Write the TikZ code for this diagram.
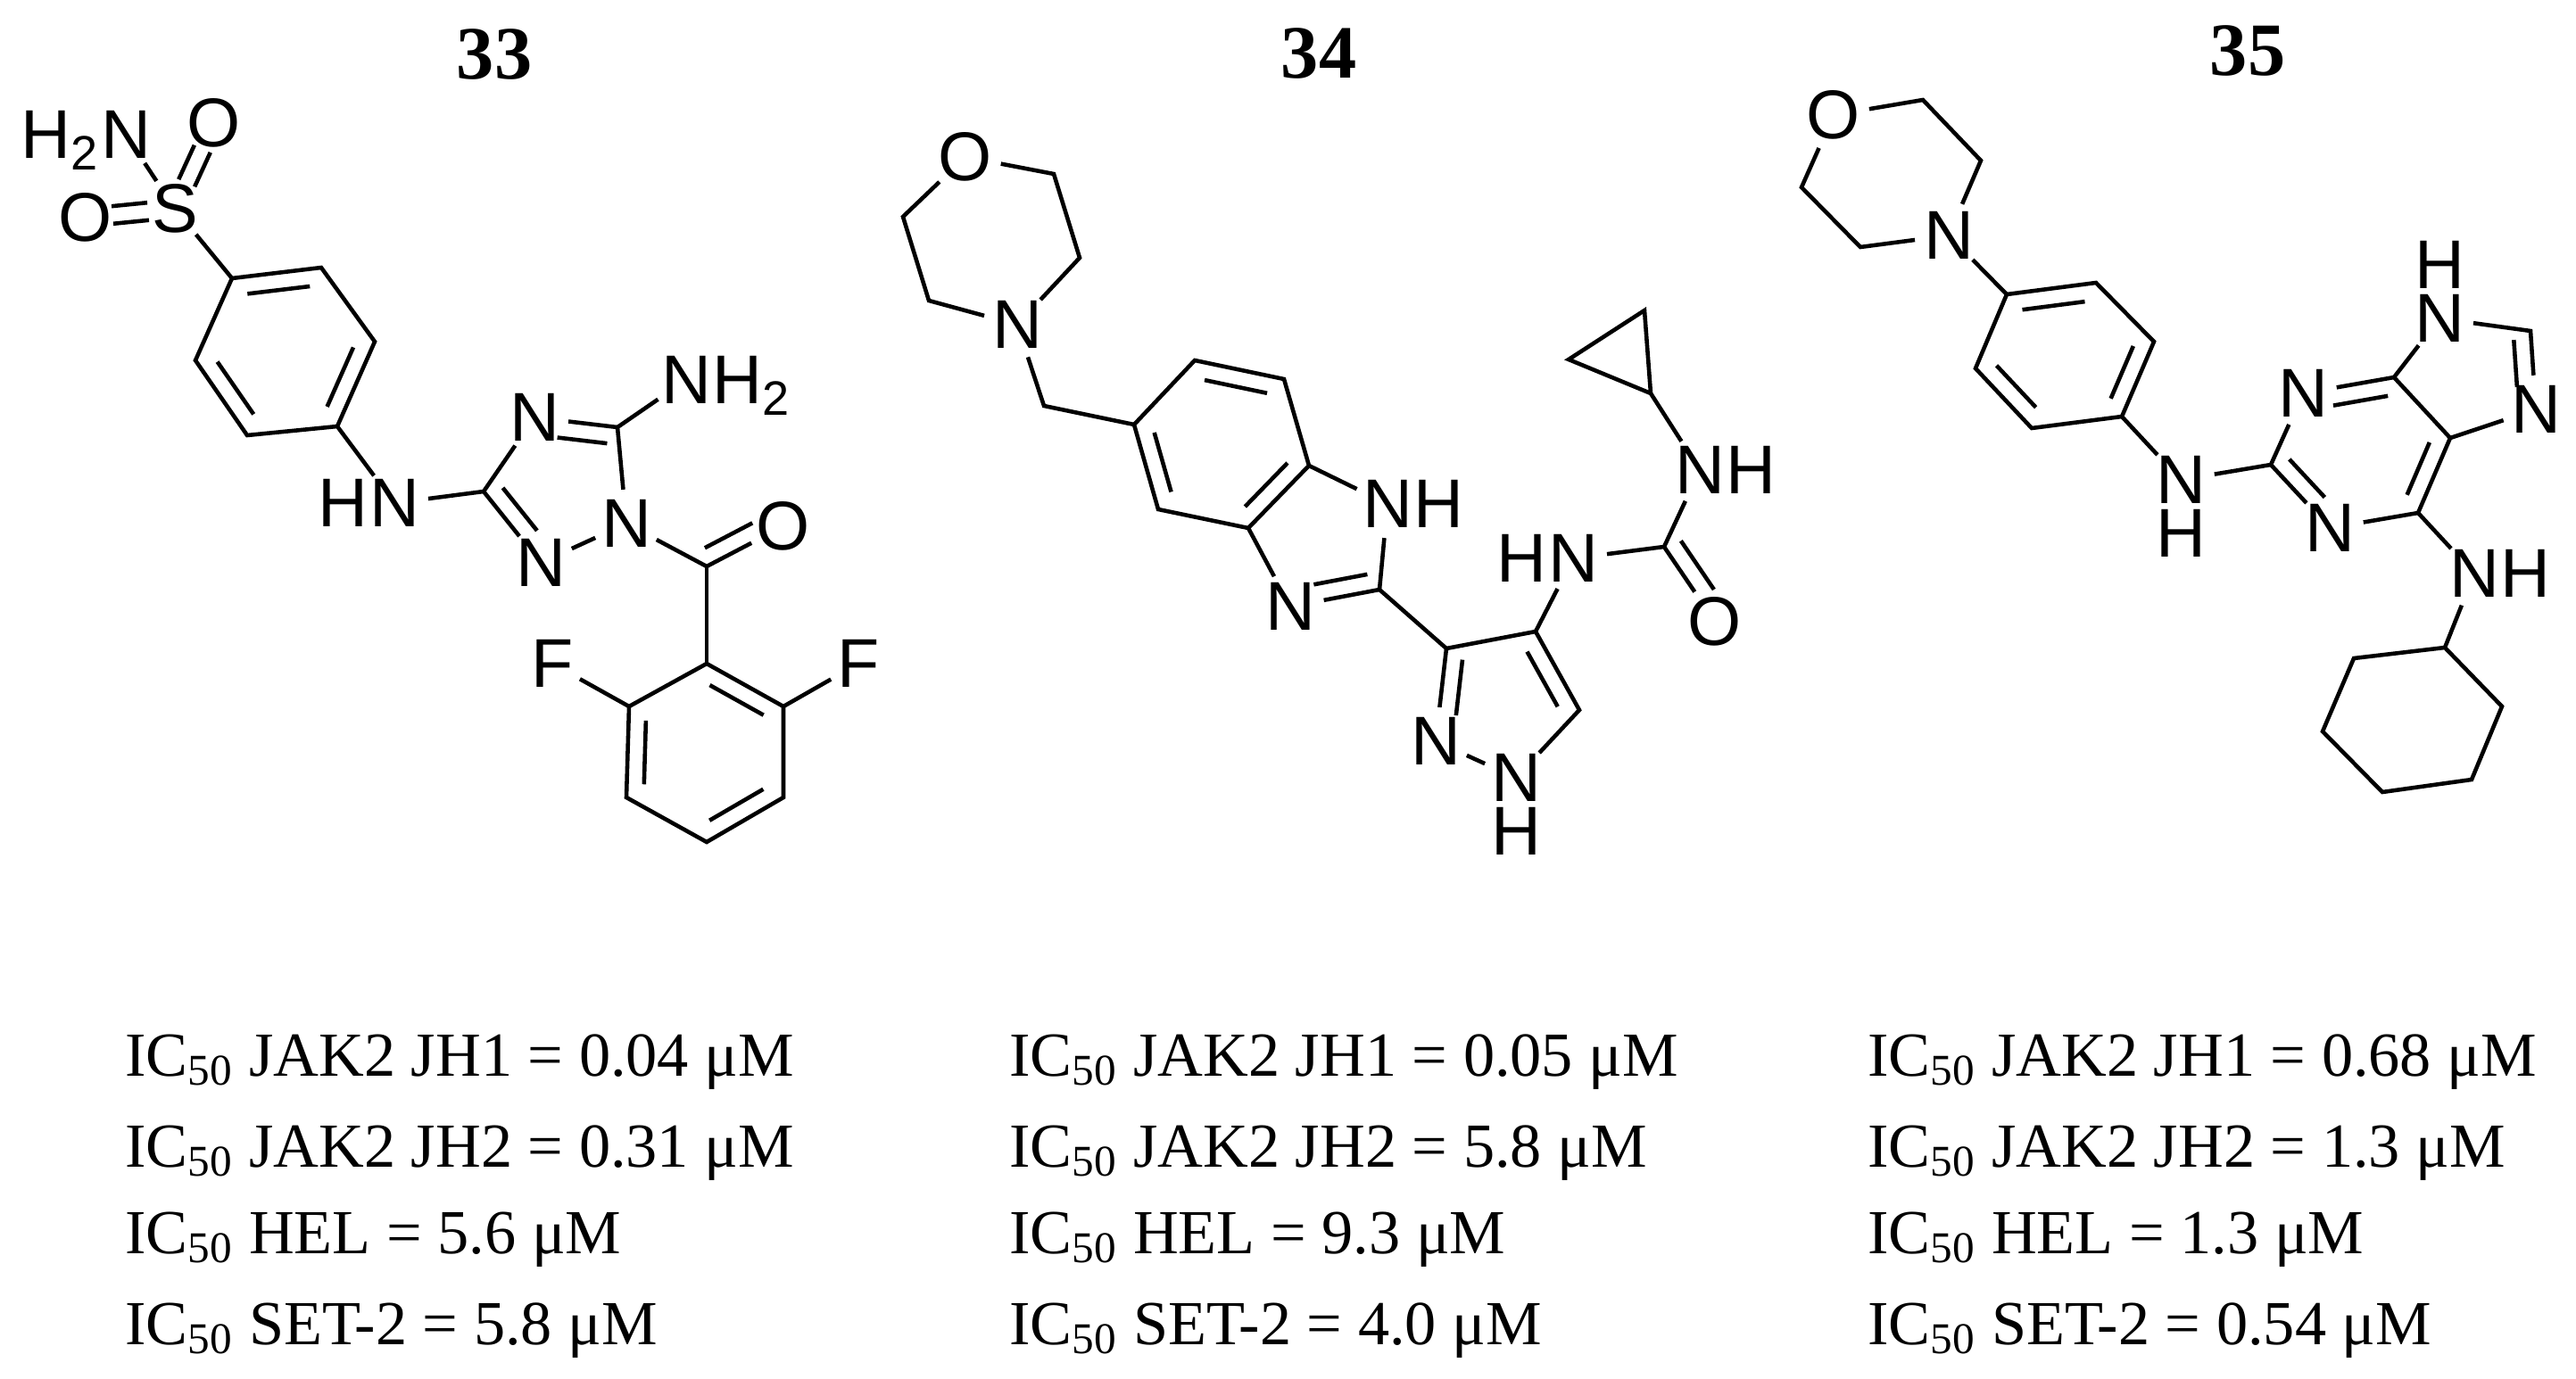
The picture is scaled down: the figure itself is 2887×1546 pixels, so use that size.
\documentclass[tikz,border=0pt]{standalone}
\usepackage{fontspec}
\setmainfont{Liberation Serif}
\setsansfont{Liberation Sans}
\usetikzlibrary{calc}
\newcommand\asf{\sffamily\fontsize{22}{26}\selectfont}
\newcommand\dbl[6][5.5pt]{%
 \coordinate (dbf) at ($(#2)!(#4)!(#3)$);
 \draw ($(#2)!#5!(#3) + (dbf)!#1!(#4) - (dbf)$) -- ($(#3)!#6!(#2) + (dbf)!#1!(#4) - (dbf)$);}
\tikzset{atom/.style={circle,inner sep=-0.5pt,font=\asf},
 hl/.style={inner sep=0pt,font=\asf},
 hr/.style={hl,anchor=base west,xshift=7.8pt},
 hlft/.style={hl,anchor=base east,xshift=-7.8pt},
 hdn/.style={hl,anchor=base,yshift=-17pt},
 hup/.style={hl,anchor=base,yshift=17pt},
 ic/.style={anchor=base west,inner sep=0pt,font=\fontsize{20}{24}\selectfont},
 num/.style={inner sep=0pt,font=\fontsize{24}{28}\selectfont\bfseries}}
\begin{document}
\begin{tikzpicture}[x=0.01cm,y=-0.01cm,line width=1.3pt]
\useasboundingbox (0,0) rectangle (2887,1546);
% ---------- 33 ----------
\node[num] (n33) at (554,61) {33};
\node[atom] (Na) at (141,151) {N};
\node[hlft] (Ha) at (Na.base) {H\textsubscript{2}};
\node[atom] (Ot) at (240,138) {O};
\node[atom] (S) at (196,234) {S};
\node[atom] (Ol) at (96,244) {O};
\coordinate (a1) at (260,312); \coordinate (a2) at (360,300); \coordinate (a3) at (420,383);
\coordinate (a4) at (378,478); \coordinate (a5) at (277,488); \coordinate (a6) at (219,404);
\coordinate (ca) at (319,394);
\draw (Na) -- (S); \draw (S) -- (a1);
\dbl[2.8pt]{S}{Ot}{Ol}{.3}{.3}\dbl[-2.8pt]{S}{Ot}{Ol}{.3}{.3}
\dbl[2.8pt]{S}{Ol}{Ot}{.3}{.3}\dbl[-2.8pt]{S}{Ol}{Ot}{.3}{.3}
\draw (a1)--(a2)--(a3)--(a4)--(a5)--(a6)--cycle;
\dbl{a1}{a2}{ca}{.15}{.15}\dbl{a3}{a4}{ca}{.15}{.15}\dbl{a5}{a6}{ca}{.15}{.15}
\node[atom] (Nb) at (442,564) {N};
\node[hlft] (Hb) at (Nb.base) {H};
\coordinate (t3) at (542,551);
\node[atom] (t4) at (599,468) {N};
\coordinate (t5) at (692,479);
\node[atom] (t1) at (702,587) {N};
\node[atom] (t2) at (606,631) {N};
\coordinate (ct) at (628,543);
\draw (a4) -- (Nb); \draw (Nb) -- (t3);
\draw (t3) -- (t4) -- (t5) -- (t1) -- (t2) -- (t3);
\dbl{t4}{t5}{ct}{.3}{.1}\dbl{t2}{t3}{ct}{.3}{.1}
\node[atom] (Nc) at (769,426) {N};
\node[hr] (Hc) at (Nc.base) {H\textsubscript{2}};
\draw (t5) -- (Nc);
\coordinate (cc) at (792,635);
\node[atom] (Oc) at (878,590) {O};
\draw (t1) -- (cc) -- (Oc);
\coordinate (cside) at (800,560);
\dbl{cc}{Oc}{cside}{.08}{.3}
\coordinate (b1) at (792,744); \coordinate (b2) at (878,792); \coordinate (b3) at (878,894);
\coordinate (b4) at (792,944); \coordinate (b5) at (702,894); \coordinate (b6) at (705,792);
\coordinate (cb) at (791,843);
\draw (cc) -- (b1);
\draw (b1)--(b2)--(b3)--(b4)--(b5)--(b6)--cycle;
\dbl{b1}{b2}{cb}{.15}{.15}\dbl{b3}{b4}{cb}{.15}{.15}\dbl{b5}{b6}{cb}{.15}{.15}
\node[atom] (F1) at (619,744) {F};
\node[atom] (F2) at (962,744) {F};
\draw (b6) -- (F1); \draw (b2) -- (F2);
% ---------- 34 ----------
\node[num] (n34) at (1478,60) {34};
\node[atom] (mO) at (1082,176) {O};
\coordinate (m1) at (1181,195); \coordinate (m2) at (1210,289);
\node[atom] (mN) at (1140,364) {N};
\coordinate (m3) at (1041,337); \coordinate (m4) at (1012,243);
\draw (mO) -- (m1) -- (m2) -- (mN) -- (m3) -- (m4) -- (mO);
\coordinate (ch2) at (1170,455);
\coordinate (z1) at (1271,476); \coordinate (z2) at (1339,404); \coordinate (z3) at (1439,425);
\coordinate (z4) at (1467,522); \coordinate (z5) at (1399,592); \coordinate (z6) at (1298,571);
\coordinate (cz) at (1369,498);
\draw (mN) -- (ch2) -- (z1);
\draw (z1)--(z2)--(z3)--(z4)--(z5)--(z6)--cycle;
\dbl{z2}{z3}{cz}{.15}{.15}\dbl{z1}{z6}{cz}{.15}{.15}\dbl{z4}{z5}{cz}{.15}{.15}
\node[atom] (iN1) at (1555,565) {N};
\node[hr] (iH1) at (iN1.base) {H};
\coordinate (iC2) at (1546,661);
\node[atom] (iN3) at (1446,680) {N};
\coordinate (ci) at (1483,604);
\draw (z4) -- (iN1) -- (iC2) -- (iN3) -- (z5);
\dbl{iC2}{iN3}{ci}{.1}{.3}
\coordinate (p3) at (1621,727); \coordinate (p4) at (1721,708); \coordinate (p5) at (1770,796);
\node[atom] (pN1) at (1699,872) {N};
\node[hdn] (pH1) at (pN1.base) {H};
\node[atom] (pN2) at (1609,831) {N};
\coordinate (cp) at (1684,787);
\draw (iC2) -- (p3);
\draw (p3) -- (p4) -- (p5) -- (pN1) -- (pN2) -- (p3);
\dbl{p3}{pN2}{cp}{.1}{.3}\dbl{p4}{p5}{cp}{.15}{.15}
\node[atom] (uN1) at (1763,626) {N};
\node[hlft] (uH1) at (uN1.base) {H};
\coordinate (uC) at (1865,613);
\node[atom] (uO) at (1922,697) {O};
\node[atom] (uN2) at (1905,527) {N};
\node[hr] (uH2) at (uN2.base) {H};
\draw (p4) -- (uN1); \draw (uN1) -- (uC) -- (uN2);
\draw (uC) -- (uO);
\coordinate (uside) at (1960,620);
\dbl{uC}{uO}{uside}{.05}{.3}
\coordinate (cy1) at (1850,441); \coordinate (cy2) at (1843,348); \coordinate (cy3) at (1758,403);
\draw (uN2) -- (cy1); \draw (cy1) -- (cy2) -- (cy3) -- cycle;
% ---------- 35 ----------
\node[num] (n35) at (2519,57) {35};
\node[atom] (kO) at (2055,129) {O};
\coordinate (k1) at (2155,112); \coordinate (k2) at (2220,180);
\node[atom] (kN) at (2184,264) {N};
\coordinate (k3) at (2085,277); \coordinate (k4) at (2019,210);
\draw (kO) -- (k1) -- (k2) -- (kN) -- (k3) -- (k4) -- (kO);
\coordinate (e1) at (2249,330); \coordinate (e2) at (2349,317); \coordinate (e3) at (2414,383);
\coordinate (e4) at (2378,467); \coordinate (e5) at (2277,480); \coordinate (e6) at (2214,413);
\coordinate (ce) at (2314,398);
\draw (kN) -- (e1);
\draw (e1)--(e2)--(e3)--(e4)--(e5)--(e6)--cycle;
\dbl{e1}{e2}{ce}{.15}{.15}\dbl{e3}{e4}{ce}{.15}{.15}\dbl{e5}{e6}{ce}{.15}{.15}
\node[atom] (qN) at (2444,538) {N};
\node[hdn] (qH) at (qN.base) {H};
\coordinate (r2) at (2545,521);
\node[atom] (rN3) at (2581,441) {N};
\coordinate (r4) at (2683,423); \coordinate (r5) at (2746,491); \coordinate (r6) at (2710,575);
\node[atom] (rN1) at (2611,592) {N};
\coordinate (cr) at (2646,507);
\draw (e4) -- (qN) -- (r2);
\draw (r2) -- (rN3) -- (r4) -- (r5) -- (r6) -- (rN1) -- (r2);
\dbl{r2}{rN1}{cr}{.1}{.3}\dbl{rN3}{r4}{cr}{.3}{.1}\dbl{r5}{r6}{cr}{.15}{.15}
\node[atom] (sN9) at (2734,357) {N};
\node[hup] (sH9) at (sN9.base) {H};
\coordinate (s8) at (2836,371);
\node[atom] (sN7) at (2842,459) {N};
\coordinate (cs) at (2768,420);
\draw (r4) -- (sN9) -- (s8) -- (sN7) -- (r5);
\dbl{s8}{sN7}{cs}{.1}{.3}
\node[atom] (hN) at (2773,643) {N};
\node[hr] (hH) at (hN.base) {H};
\coordinate (h1) at (2740,726); \coordinate (h2) at (2804,792); \coordinate (h3) at (2770,874);
\coordinate (h4) at (2670,888); \coordinate (h5) at (2603,820); \coordinate (h6) at (2638,738);
\draw (r6) -- (hN) -- (h1);
\draw (h1)--(h2)--(h3)--(h4)--(h5)--(h6)--cycle;
% ---------- data ----------
\node[ic] (t1a) at (138,1206) {IC\textsubscript{50} JAK2 JH1 = 0.04 μM};
\node[ic] (t1b) at (138,1308) {IC\textsubscript{50} JAK2 JH2 = 0.31 μM};
\node[ic] (t1c) at (138,1405) {IC\textsubscript{50} HEL = 5.6 μM};
\node[ic] (t1d) at (138,1507) {IC\textsubscript{50} SET-2 = 5.8 μM};
\node[ic] (t2a) at (1129,1206) {IC\textsubscript{50} JAK2 JH1 = 0.05 μM};
\node[ic] (t2b) at (1129,1308) {IC\textsubscript{50} JAK2 JH2 = 5.8 μM};
\node[ic] (t2c) at (1129,1405) {IC\textsubscript{50} HEL = 9.3 μM};
\node[ic] (t2d) at (1129,1507) {IC\textsubscript{50} SET-2 = 4.0 μM};
\node[ic] (t3a) at (2091,1206) {IC\textsubscript{50} JAK2 JH1 = 0.68 μM};
\node[ic] (t3b) at (2091,1308) {IC\textsubscript{50} JAK2 JH2 = 1.3 μM};
\node[ic] (t3c) at (2091,1405) {IC\textsubscript{50} HEL = 1.3 μM};
\node[ic] (t3d) at (2091,1507) {IC\textsubscript{50} SET-2 = 0.54 μM};
\end{tikzpicture}
\end{document}
